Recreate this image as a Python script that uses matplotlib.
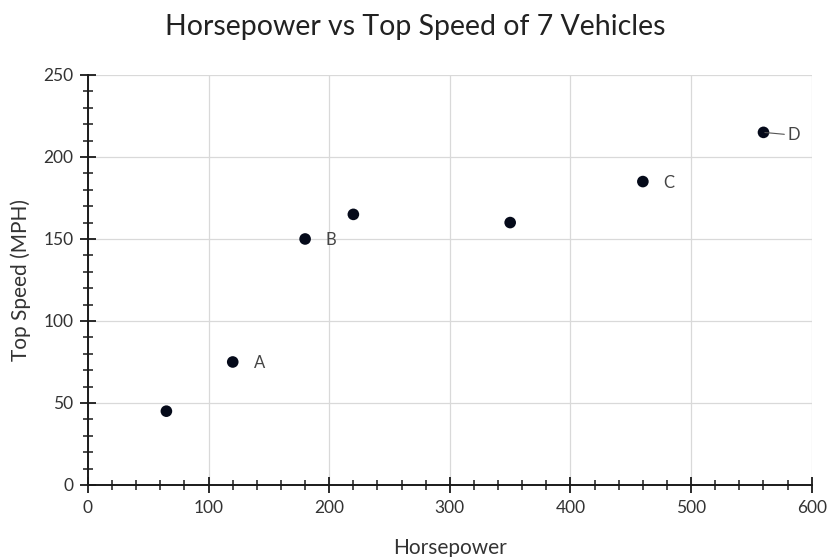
import matplotlib
matplotlib.use("Agg")
import matplotlib.pyplot as plt
from matplotlib.ticker import MultipleLocator

plt.rcParams['font.family'] = ['Lato', 'DejaVu Sans']

horsepower = [65, 120, 180, 220, 350, 460, 560]
top_speed = [45, 75, 150, 165, 160, 185, 215]
point_labels = ["", "A", "B", "", "", "C", "D"]

title = "Horsepower vs Top Speed of 7 Vehicles"
x_label = "Horsepower"
y_label = "Top Speed (MPH)"

fig = plt.figure(figsize=(8.3, 5.57), dpi=100)
ax = fig.add_axes([0.106, 0.1293, 0.872, 0.7361])

ax.scatter(horsepower, top_speed, s=70, color="#050a1a", zorder=3, edgecolors="none")

for x, y, lab in zip(horsepower, top_speed, point_labels):
    if not lab:
        continue
    if lab == "D":
        ax.annotate(lab, xy=(x, y), xytext=(17, -2), textcoords="offset points",
                    fontsize=12, color="#444444", va="center", ha="left",
                    arrowprops=dict(arrowstyle="-", color="#555555", lw=0.8,
                                    shrinkA=0, shrinkB=1))
    else:
        ax.annotate(lab, xy=(x, y), xytext=(15, -1), textcoords="offset points",
                    fontsize=12, color="#444444", va="center", ha="left")

ax.set_xlim(0, 600)
ax.set_ylim(0, 250)
ax.xaxis.set_major_locator(MultipleLocator(100))
ax.xaxis.set_minor_locator(MultipleLocator(20))
ax.yaxis.set_major_locator(MultipleLocator(50))
ax.yaxis.set_minor_locator(MultipleLocator(10))

ax.grid(True, which="major", color="#d9d9d9", lw=0.9, zorder=0)
ax.set_axisbelow(True)

for s in ["top", "right"]:
    ax.spines[s].set_visible(False)
for s in ["left", "bottom"]:
    ax.spines[s].set_color("#1a1a1a")
    ax.spines[s].set_linewidth(1.4)

ax.tick_params(which="major", direction="inout", length=11, width=1.3, color="#1a1a1a",
               labelsize=12.5, labelcolor="#333333", pad=5)
ax.tick_params(which="minor", direction="inout", length=7, width=1.1, color="#1a1a1a")

ax.set_xlabel(x_label, fontsize=15, color="#333333", labelpad=16)
ax.set_ylabel(y_label, fontsize=15, color="#333333", labelpad=9)
fig.suptitle(title, fontsize=20.5, color="#222222", y=0.975)

fig.savefig("out.png", dpi=100)
